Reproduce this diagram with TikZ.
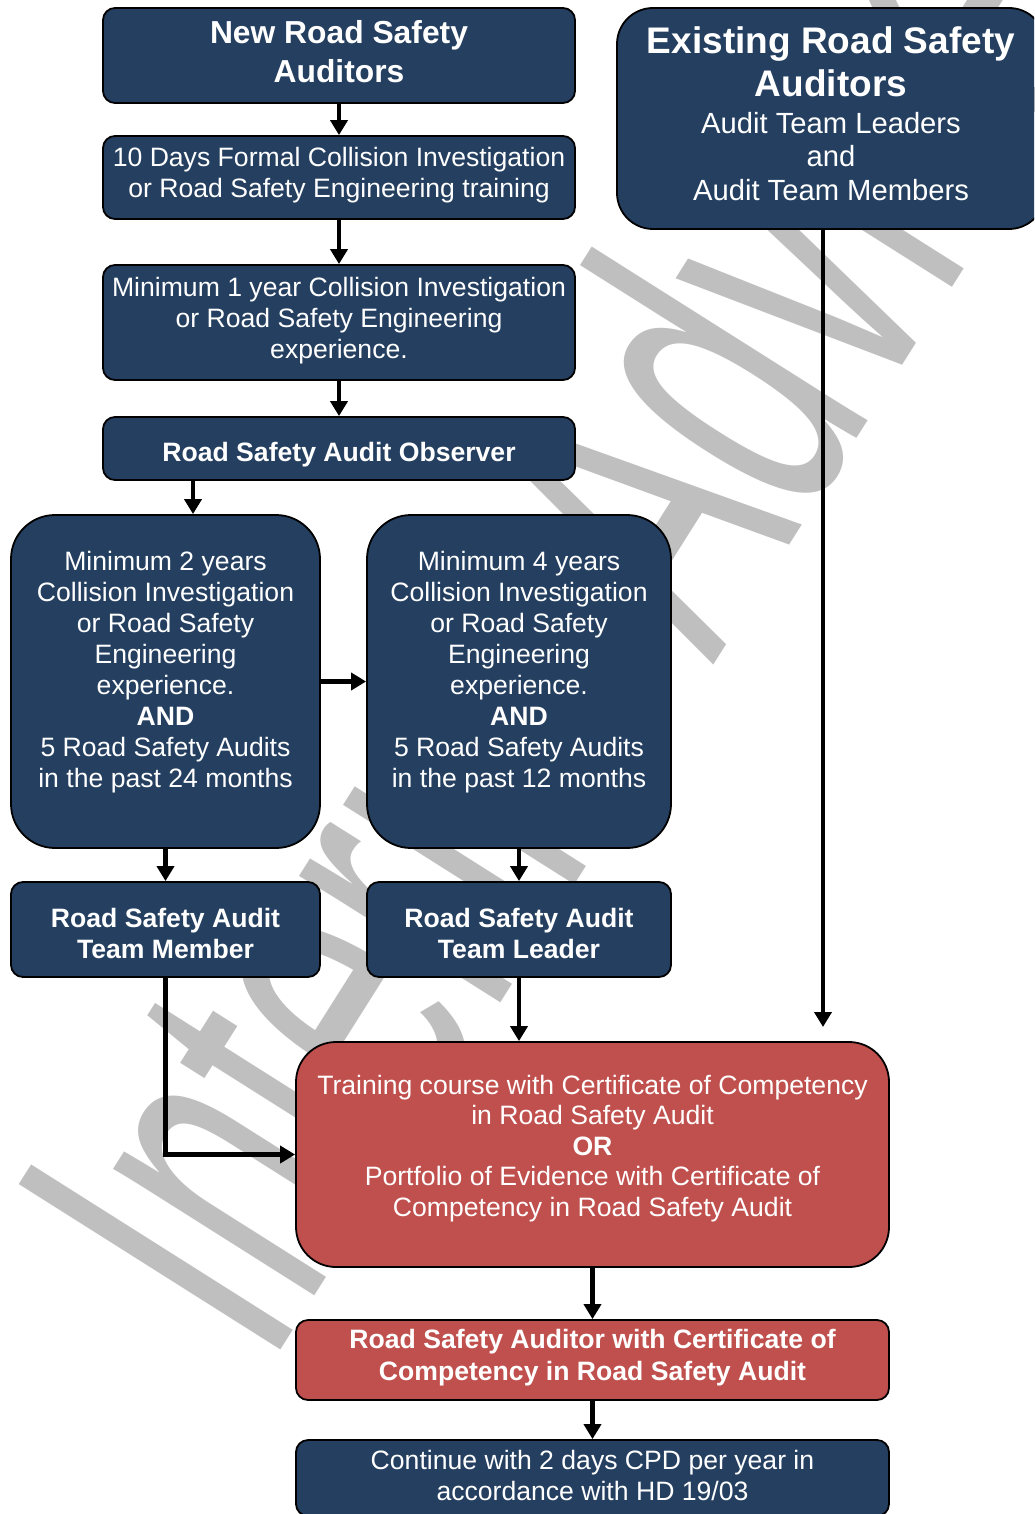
\documentclass[tikz,border=0pt]{standalone}
\usepackage{fontspec}
\setmainfont{Liberation Sans}
\usetikzlibrary{arrows.meta,calc}
\definecolor{navy}{RGB}{36,63,96}
\definecolor{brick}{RGB}{192,80,77}
\definecolor{wmgray}{RGB}{191,191,191}
\newcommand{\dropby}[1]{\rule[-#1]{0pt}{#1}}
\newcommand{\liftby}[1]{\rule{0pt}{#1}}
\begin{document}
\begin{tikzpicture}[x=0.5pt,y=-0.5pt,
  box/.style={draw=black, line width=0.9pt, fill=navy, text=white, align=center,
    rounded corners=6pt, inner sep=0pt},
  redbox/.style={box, fill=brick},
  body/.style={font=\fontsize{13.3}{15.5}\selectfont},
  bodyb/.style={font=\fontsize{13.3}{15.5}\selectfont\bfseries},
  arr/.style={line width=2.2pt, -{Triangle[width=8.5pt,length=7.5pt]}},
  wm/.style={anchor=base west, rotate=57.7, yscale=1.8, text=wmgray, inner sep=0pt,
    font=\fontsize{125}{125}\selectfont},
]
\useasboundingbox (0,0) rectangle (1034,1514);
\clip (0,0) rectangle (1034,1514);

% watermark
\node[wm] (wmark) at (268,1370) {Interim Advice};

% left column
\node[box, minimum width=236pt, minimum height=47.5pt,
  font=\fontsize{15.9}{19.5}\selectfont\bfseries] (new) at (339,55.5)
  {New Road Safety\\Auditors\dropby{4pt}};
\node[box, body, minimum width=236pt, minimum height=41.5pt] (tenday) at (339,177.5)
  {10 Days Formal Collision Investigation\\or Road Safety Engineering training\dropby{4.8pt}};
\node[box, body, minimum width=236pt, minimum height=57.5pt] (minone) at (339,322.5)
  {Minimum 1 year Collision Investigation\\or Road Safety Engineering\\experience.\dropby{4.3pt}};
\node[box, bodyb, minimum width=236pt, minimum height=31.5pt] (obs) at (339,448.5)
  {\liftby{16pt}Road Safety Audit Observer};

% existing auditors
\node[box, rounded corners=18pt, minimum width=214pt, minimum height=110.5pt,
  font=\fontsize{14.6}{16.75}\selectfont] (exist) at (831,118.5)
  {{\fontsize{18.5}{21.5}\selectfont\bfseries Existing Road Safety}\\[3.25pt]%
   {\fontsize{18.5}{21.5}\selectfont\bfseries Auditors}\\[1.75pt]%
   Audit Team Leaders\\and\\Audit Team Members\dropby{5pt}};

% experience boxes
\node[box, body, rounded corners=22pt, minimum width=154.5pt, minimum height=166.5pt] (mintwo) at (165.5,681.5)
  {Minimum 2 years\\Collision Investigation\\or Road Safety\\Engineering\\experience.\\\textbf{AND}\\5 Road Safety Audits\\in the past 24 months\dropby{11.8pt}};
\node[box, body, rounded corners=22pt, minimum width=152pt, minimum height=166.5pt] (minfour) at (519,681.5)
  {Minimum 4 years\\Collision Investigation\\or Road Safety\\Engineering\\experience.\\\textbf{AND}\\5 Road Safety Audits\\in the past 12 months\dropby{11.8pt}};

% team boxes
\node[box, bodyb, minimum width=154.5pt, minimum height=47.5pt] (member) at (165.5,929.5)
  {\liftby{13.7pt}Road Safety Audit\\Team Member};
\node[box, bodyb, minimum width=152pt, minimum height=47.5pt] (leader) at (519,929.5)
  {\liftby{13.7pt}Road Safety Audit\\Team Leader};

% red boxes
\node[redbox, font=\fontsize{13.3}{15.25}\selectfont, rounded corners=20pt, minimum width=296.5pt, minimum height=112.5pt] (train) at (592.5,1154.5)
  {Training course with Certificate of Competency\\in Road Safety Audit\\\textbf{OR}\\Portfolio of Evidence with Certificate of\\Competency in Road Safety Audit\dropby{8.8pt}};
\node[redbox, font=\fontsize{13.3}{16}\selectfont\bfseries, minimum width=296.5pt, minimum height=40pt] (auditor) at (592.5,1360)
  {Road Safety Auditor with Certificate of\\Competency in Road Safety Audit\dropby{4.8pt}};
\node[box, body, minimum width=296.5pt, minimum height=38pt] (cont) at (592.5,1478)
  {Continue with 2 days CPD per year in\\accordance with HD 19/03\dropby{2.5pt}};

% helper coordinates
\coordinate (obsx) at (193,0);
\coordinate (eend) at (823,1027);

% connectors
\draw[arr] (new) -- (tenday);
\draw[arr] (tenday) -- (minone);
\draw[arr] (minone) -- (obs);
\draw[arr] (obs.south -| obsx) -- (mintwo.north -| obsx);
\draw[arr] (mintwo.east) -- (minfour.west);
\draw[arr] (mintwo) -- (member);
\draw[arr] (minfour) -- (leader);
\draw[arr] (leader.south) -- (leader.south |- train.north);
\draw[arr] (member.south) |- (train.west);
\draw[arr] (exist.south -| eend) -- (eend);
\draw[arr] (train) -- (auditor);
\draw[arr] (auditor) -- (cont);
\end{tikzpicture}
\end{document}
